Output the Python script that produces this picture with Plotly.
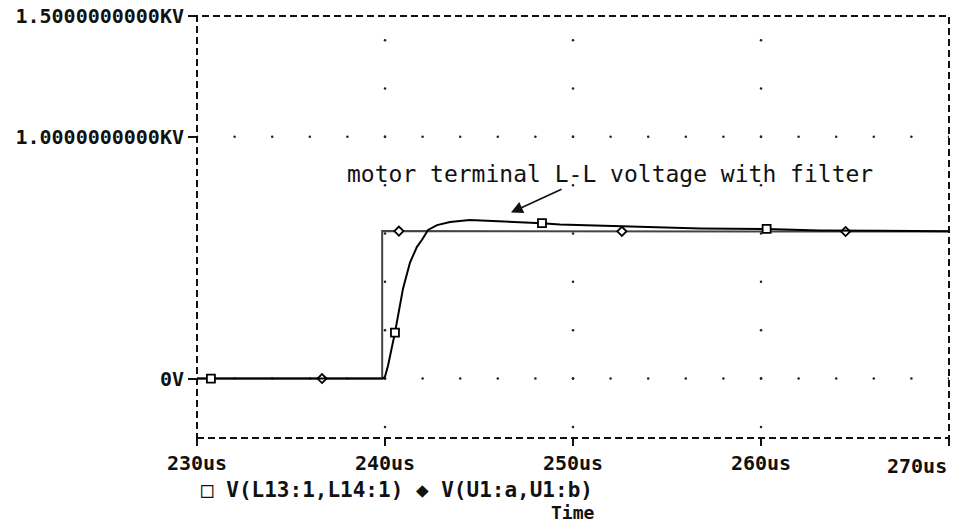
import numpy as np
import plotly.graph_objects as go

# ---- data (time in us, voltage in KV) ----
step_t = [230.0, 239.85, 239.85, 270.0]
step_v = [0.0, 0.0, 0.61, 0.608]
step_marker_t = [236.65, 240.74, 252.6, 264.5]

filt_t = [230.0, 239.9, 240.0, 240.16, 240.53, 240.96, 241.33, 241.7, 241.97, 242.29,
          242.77, 243.46, 244.5, 245.6, 247.2, 248.35, 249.3, 251.4, 253.6, 256.8,
          260.3, 263.1, 266.3, 270.0]
filt_v = [0.0, 0.0, 0.008, 0.053, 0.19, 0.373, 0.48, 0.545, 0.574, 0.615,
          0.635, 0.648, 0.656, 0.652, 0.648, 0.643, 0.637, 0.633, 0.627, 0.621,
          0.619, 0.613, 0.611, 0.609]
filt_marker_t = [230.74, 240.53, 248.35, 260.3]

x_tickvals = [230, 240, 250, 260, 270]
x_ticktext = ["230us", "240us", "250us", "260us", ""]
y_tickvals = [0.0, 1.0, 1.5]
y_ticktext = ["0V", "1.0000000000KV", "1.5000000000KV"]

grid_x_step = 2.0
grid_y_step = 0.2
grid_h_levels = [0.0, 1.0]
grid_v_levels = [240, 250, 260]

MONO = "DejaVu Sans Mono"

fig = go.Figure()

# dotted grid
gx = np.arange(230, 270.01, grid_x_step)
dots_x, dots_y = [], []
for lv in grid_h_levels:
    dots_x += list(gx)
    dots_y += [lv] * len(gx)
gy = np.arange(-0.2, 1.41, grid_y_step)
for lv in grid_v_levels:
    dots_x += [lv] * len(gy)
    dots_y += list(gy)
fig.add_trace(go.Scatter(x=dots_x, y=dots_y, mode="markers",
                         marker=dict(size=2.5, color="#222"), hoverinfo="skip",
                         showlegend=False))

# step (source) voltage
fig.add_trace(go.Scatter(x=step_t, y=step_v, mode="lines",
                         line=dict(color="#444", width=2), showlegend=False))
fig.add_trace(go.Scatter(x=step_marker_t,
                         y=np.interp(step_marker_t, [230, 239.85, 239.8501, 270], [0, 0, 0.61, 0.608]),
                         mode="markers",
                         marker=dict(symbol="diamond", size=7, color="white",
                                     line=dict(color="black", width=1.8)),
                         showlegend=False))

# filtered motor terminal voltage
fig.add_trace(go.Scatter(x=filt_t, y=filt_v, mode="lines",
                         line=dict(color="black", width=2), showlegend=False))
fig.add_trace(go.Scatter(x=filt_marker_t, y=np.interp(filt_marker_t, filt_t, filt_v),
                         mode="markers",
                         marker=dict(symbol="square", size=8, color="white",
                                     line=dict(color="black", width=1.8)),
                         showlegend=False))

# dashed border
fig.add_shape(type="rect", xref="paper", yref="paper", x0=0, x1=1, y0=0, y1=1,
              line=dict(color="#111", width=2, dash="7px,4px"))

# annotation text and arrow
fig.add_annotation(x=251.97, y=0.847, text="motor terminal L-L voltage with filter",
                   showarrow=False, font=dict(family=MONO, size=23, color="#111"))
fig.add_annotation(x=246.7, y=0.687, ax=249.47, ay=0.786, axref="x", ayref="y",
                   text="", showarrow=True, arrowhead=2, arrowsize=1.4,
                   arrowwidth=1.7, arrowcolor="#111")

# last x tick label (right-aligned so it stays inside)
fig.add_annotation(x=270, xref="x", y=0, yref="paper", yshift=-14, text="<b>270us</b>",
                   showarrow=False, xanchor="right", yanchor="top",
                   font=dict(family=MONO, size=20, color="#111"))

# legend line below the chart
fig.add_annotation(xref="paper", yref="paper", x=0.003, y=0, yshift=-38,
                   xanchor="left", yanchor="top",
                   text="<b>\u25a1 V(L13:1,L14:1) \u25c6 V(U1:a,U1:b)</b>", showarrow=False,
                   font=dict(family=MONO, size=21, color="#111"))
# axis title
fig.add_annotation(x=250, xref="x", y=0, yref="paper", yshift=-62,
                   xanchor="center", yanchor="top",
                   text="<b>Time</b>", showarrow=False,
                   font=dict(family=MONO, size=18, color="#111"))

fig.update_layout(
    width=955, height=523,
    margin=dict(l=197, r=6, t=16, b=85),
    paper_bgcolor="white", plot_bgcolor="white",
    font=dict(family=MONO, color="#111"),
    xaxis=dict(range=[230, 270], tickvals=x_tickvals,
               ticktext=[f"<b>{t}</b>" if t else "" for t in x_ticktext],
               showgrid=False, zeroline=False, showline=False, automargin=False,
               ticks="outside", ticklen=7, tickwidth=2, tickcolor="#111",
               tickfont=dict(family=MONO, size=20, color="#111")),
    yaxis=dict(range=[-0.246, 1.5], tickvals=y_tickvals,
               ticktext=[f"<b>{t}</b>" for t in y_ticktext],
               showgrid=False, zeroline=False, showline=False, automargin=False,
               ticks="outside", ticklen=8, tickwidth=2, tickcolor="#111",
               tickfont=dict(family=MONO, size=20, color="#111")),
)

fig.write_html("out.html", config={"displayModeBar": False},
               post_script="document.body.style.margin='0';document.body.style.overflow='hidden';")
